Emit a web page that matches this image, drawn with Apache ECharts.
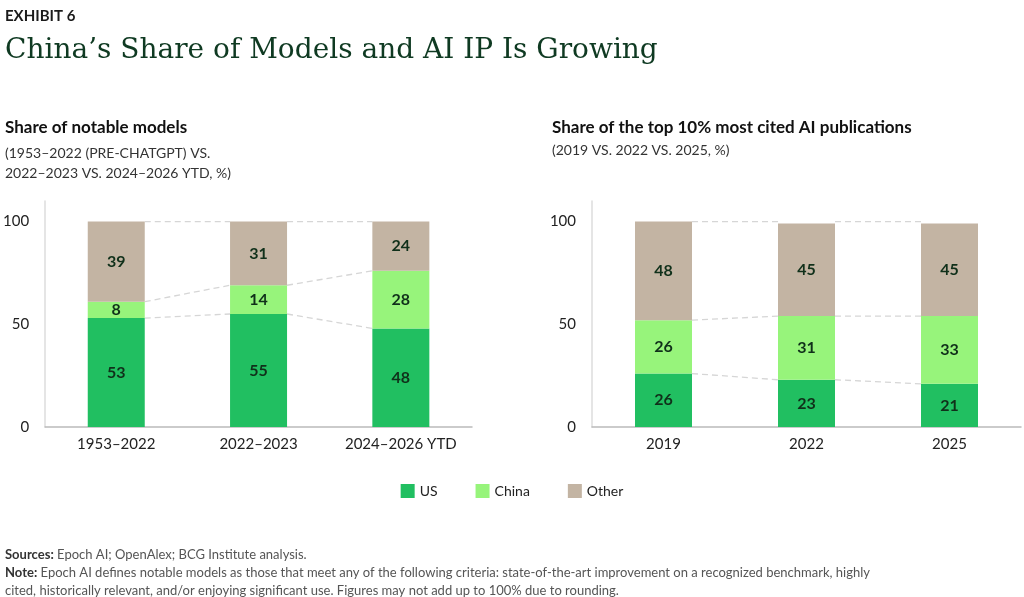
<!DOCTYPE html>
<html>
<head>
<meta charset="utf-8">
<script src="https://cdn.jsdelivr.net/npm/echarts@6/dist/echarts.min.js"></script>
<style>
* { margin: 0; padding: 0; }
body { background: #fff; }
#chart { width: 1024px; height: 597px; }
</style>
</head>
<body>
<div id="chart"></div>
<script>
var colors = { US: '#21bf61', China: '#97f47b', Other: '#c3b4a3' };
var left = {
	cats: ['1953\u20132022', '2022\u20132023', '2024\u20132026 YTD'],
	US: [53, 55, 48], China: [8, 14, 28], Other: [39, 31, 24]
};
var right = {
	cats: ['2019', '2022', '2025'],
	US: [26, 23, 21], China: [26, 31, 33], Other: [48, 45, 45]
};
var font = 'Lato, "Noto Sans", sans-serif';

function axes(idx, d) {
	return {
		x: { gridIndex: idx, type: 'category', data: d.cats,
			axisLine: { lineStyle: { color: '#bbb', width: 1.5 } }, axisTick: { show: false },
			axisLabel: { color: '#222', fontSize: 15, fontFamily: font, margin: 10, interval: 0 } },
		y: { gridIndex: idx, type: 'value', min: 0, max: 110, interval: 50,
			splitLine: { show: false },
			axisLine: { show: true, lineStyle: { color: '#ddd', width: 1.5 } },
			axisLabel: { color: '#222', fontSize: 15, fontFamily: font, showMaxLabel: false, margin: 16 } }
	};
}

function bars(idx, d) {
	var out = [];
	['US', 'China', 'Other'].forEach(function (k) {
		out.push({
			name: k, type: 'bar', stack: 's' + idx, xAxisIndex: idx, yAxisIndex: idx,
			data: d[k], barWidth: 57, itemStyle: { color: colors[k] },
			label: { show: true, color: '#10301a', fontWeight: 'bold', fontSize: 16, fontFamily: font }
		});
	});
	// dashed connectors between cumulative tops
	var pts = [];
	for (var i = 0; i < d.cats.length - 1; i++) {
		var c1 = d.US[i], c2 = d.US[i + 1];
		pts.push([i, c1, c2]);
		pts.push([i, c1 + d.China[i], c2 + d.China[i + 1]]);
		pts.push([i, 100, 100]);
	}
	out.push({
		type: 'custom', xAxisIndex: idx, yAxisIndex: idx, silent: true, z: 1,
		data: pts,
		renderItem: function (params, api) {
			var i = api.value(0);
			var a = api.coord([i, api.value(1)]);
			var b = api.coord([i + 1, api.value(2)]);
			return { type: 'line', shape: { x1: a[0] + 28.5, y1: a[1], x2: b[0] - 28.5, y2: b[1] },
				style: { stroke: '#d6d6d6', lineWidth: 1.3, lineDash: [6, 4] } };
		}
	});
	return out;
}

var a0 = axes(0, left), a1 = axes(1, right);
var chart = echarts.init(document.getElementById('chart'));
chart.setOption({
	animation: false,
	textStyle: { fontFamily: font },
	title: [
		{ text: 'EXHIBIT 6', left: 0, top: 4, textStyle: { fontSize: 15, fontWeight: 'bold', color: '#1b1b1b', fontFamily: font } },
		{ text: 'China\u2019s Share of Models and AI IP Is Growing', left: 0, top: 32,
			textStyle: { fontSize: 28, fontWeight: 'normal', color: '#0f3a22', fontFamily: '"DejaVu Serif", "Liberation Serif", serif' } },
		{ text: 'Share of notable models', left: 0, top: 114, textStyle: { fontSize: 17, fontWeight: 'bold', color: '#111', fontFamily: font } },
		{ text: '(1953\u20132022 (PRE-CHATGPT) VS.\n2022\u20132023 VS. 2024\u20132026 YTD, %)', left: 0, top: 138,
			textStyle: { fontSize: 14, fontWeight: 'normal', color: '#333', lineHeight: 20, fontFamily: font } },
		{ text: 'Share of the top 10% most cited AI publications', left: 547, top: 114, textStyle: { fontSize: 17, fontWeight: 'bold', color: '#111', fontFamily: font } },
		{ text: '(2019 VS. 2022 VS. 2025, %)', left: 547, top: 138, textStyle: { fontSize: 14, fontWeight: 'normal', color: '#333', fontFamily: font } },
		{ text: '{b|Sources:} Epoch AI; OpenAlex; BCG Institute analysis.\n{b|Note:} Epoch AI defines notable models as those that meet any of the following criteria: state-of-the-art improvement on a recognized benchmark, highly\ncited, historically relevant, and/or enjoying significant use. Figures may not add up to 100% due to rounding.',
			left: 0, top: 541,
			textStyle: { fontSize: 13, fontWeight: 'normal', color: '#555', lineHeight: 18, fontFamily: font,
				rich: { b: { fontSize: 13, fontWeight: 'bold', color: '#333', fontFamily: font } } } }
	],
	legend: { data: ['US', 'China', 'Other'], left: 'center', top: 479, itemWidth: 14, itemHeight: 14, itemGap: 38,
		icon: 'rect', textStyle: { fontSize: 14, color: '#222', fontFamily: font } },
	grid: [
		{ left: 43, width: 429, top: 201, height: 226 },
		{ left: 592, width: 429, top: 201, height: 226 }
	],
	xAxis: [a0.x, a1.x],
	yAxis: [a0.y, a1.y],
	series: bars(0, left).concat(bars(1, right))
});
</script>
</body>
</html>
